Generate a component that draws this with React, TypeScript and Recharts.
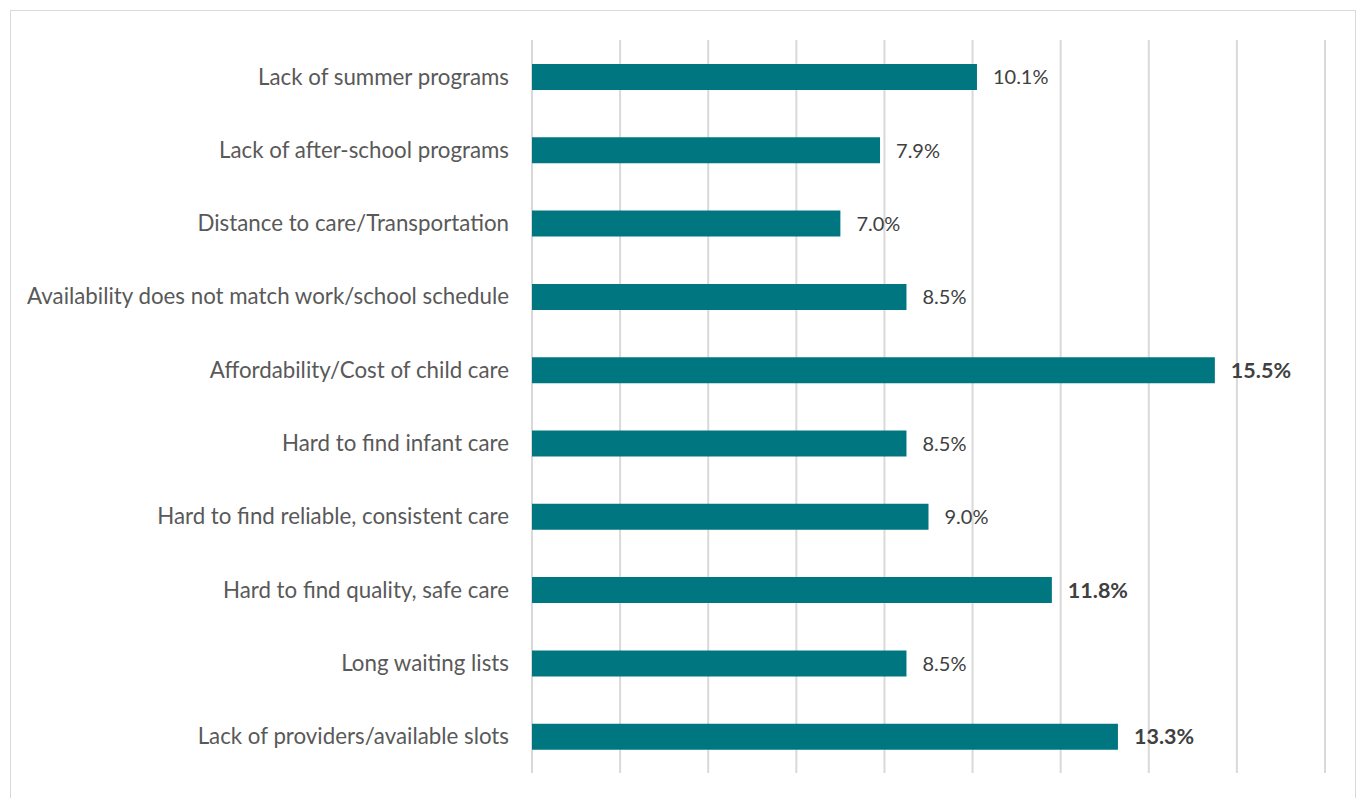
import { BarChart, Bar, XAxis, YAxis, CartesianGrid, LabelList } from 'recharts';

const categories = [
  'Lack of summer programs',
  'Lack of after-school programs',
  'Distance to care/Transportation',
  'Availability does not match work/school schedule',
  'Affordability/Cost of child care',
  'Hard to find infant care',
  'Hard to find reliable, consistent care',
  'Hard to find quality, safe care',
  'Long waiting lists',
  'Lack of providers/available slots',
];

const percents = [10.1, 7.9, 7.0, 8.5, 15.5, 8.5, 9.0, 11.8, 8.5, 13.3];

// top three answers are shown in bold
const bolded = ['Affordability/Cost of child care', 'Hard to find quality, safe care', 'Lack of providers/available slots'];

const xTicks = [0, 2, 4, 6, 8, 10, 12, 14, 16, 18];

const data = categories.map((name, i) => ({ name, value: percents[i], bold: bolded.includes(name) }));

const FONT = 'Lato, "Open Sans", sans-serif';

// eslint-disable-next-line @typescript-eslint/no-explicit-any
function ValueLabel(props: any) {
  const { x, y, width, height, value, index } = props;
  const isBold = data[index]?.bold;
  return (
    <text
      x={x + width + 16}
      y={y + height / 2}
      dy="0.36em"
      fill="#404040"
      fontSize={isBold ? 21.5 : 20}
      fontWeight={isBold ? 700 : 400}
      fontFamily={FONT}
    >
      {`${Number(value).toFixed(1)}%`}
    </text>
  );
}

// x axis has no visible labels, only its ticks feed the grid
function NoTick() {
  return <g />;
}

export default function App() {
  return (
    <div
      style={{
        position: 'absolute',
        left: 10,
        top: 10,
        width: 1344,
        height: 800,
        border: '1px solid #d9d9d9',
        background: '#fff',
      }}
    >
      <BarChart
        width={1344}
        height={788}
        data={data}
        layout="vertical"
        margin={{ top: 29, right: 30, bottom: 26, left: 0 }}
      >
        <CartesianGrid horizontal={false} stroke="#d9d9d9" strokeWidth={2} />
        <XAxis
          type="number"
          domain={[0, 18]}
          ticks={xTicks}
          tick={<NoTick />}
          axisLine={false}
          tickLine={false}
          height={0}
        />
        <YAxis
          type="category"
          dataKey="name"
          width={521}
          axisLine={false}
          tickLine={false}
          tickMargin={17}
          interval={0}
          tick={{ fill: '#595959', fontSize: 22.3, fontFamily: FONT }}
        />
        <Bar dataKey="value" fill="#007681" barSize={26} isAnimationActive={false}>
          <LabelList dataKey="value" content={<ValueLabel />} />
        </Bar>
      </BarChart>
    </div>
  );
}
